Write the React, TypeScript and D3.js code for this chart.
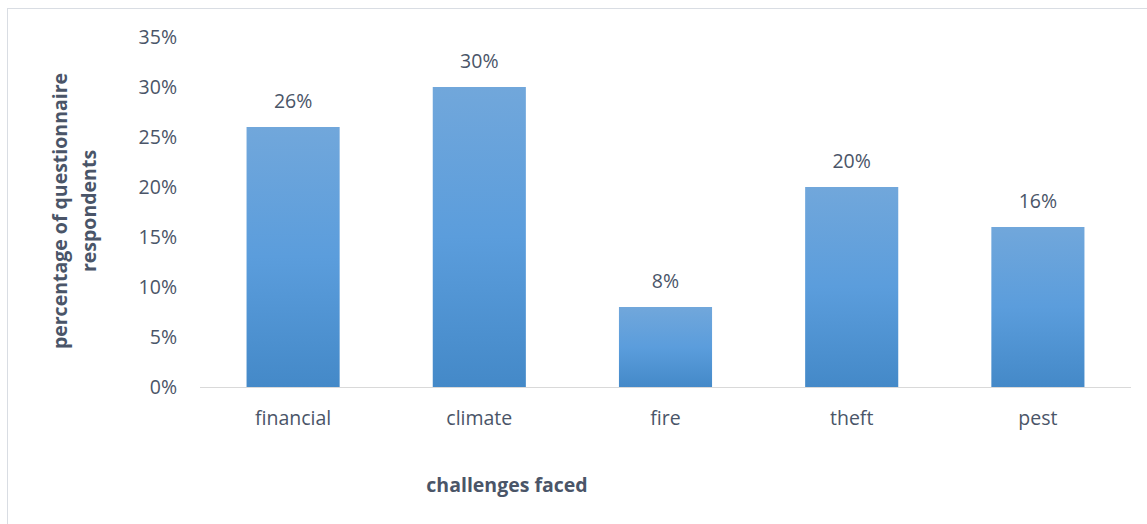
import React from "react";
import * as d3 from "d3";

const categories = ["financial", "climate", "fire", "theft", "pest"];
const values = [26, 30, 8, 20, 16];
const yTicks = [0, 5, 10, 15, 20, 25, 30, 35];

export default function App() {
  const W = 1147, H = 524;
  const left = 200, right = 1131, top = 37, bottom = 387;
  const x = d3.scaleBand<string>().domain(categories).range([left, right]).paddingInner(0.5).paddingOuter(0.25);
  const y = d3.scaleLinear().domain([0, 35]).range([bottom, top]);
  const font = "'Open Sans', sans-serif";
  const tc = "#4a5568";
  const fs = 19.5;
  return (
    <svg width={W} height={H} style={{ position: "absolute", left: 0, top: 0, background: "#fff" }}>
      <defs>
        <linearGradient id="bg" x1="0" y1="0" x2="0" y2="1">
          <stop offset="0%" stopColor="#71a7db" />
          <stop offset="50%" stopColor="#5b9ddc" />
          <stop offset="100%" stopColor="#4489c8" />
        </linearGradient>
      </defs>
      <rect x={7.5} y={8.5} width={W} height={H} fill="#fff" stroke="#d9dde3" strokeWidth={1} />
      {yTicks.map((t) => (
        <text key={t} x={177} y={y(t)} dy="0.35em" textAnchor="end" fontFamily={font} fontSize={fs} fill={tc}>
          {t}%
        </text>
      ))}
      {categories.map((c, i) => (
        <g key={c}>
          <rect x={x(c)} y={y(values[i])} width={x.bandwidth()} height={bottom - y(values[i])} fill="url(#bg)" />
          <text x={x(c)! + x.bandwidth() / 2} y={y(values[i]) - 26} dy="0.35em" textAnchor="middle" fontFamily={font} fontSize={fs} fill={tc}>
            {values[i]}%
          </text>
          <text x={x(c)! + x.bandwidth() / 2} y={418} dy="0.35em" textAnchor="middle" fontFamily={font} fontSize={fs} fill={tc}>
            {c}
          </text>
        </g>
      ))}
      <line x1={left} x2={right} y1={bottom + 0.5} y2={bottom + 0.5} stroke="#d9d9d9" strokeWidth={1} />
      <text x={507} y={485} dy="0.35em" textAnchor="middle" fontFamily={font} fontSize={fs} fontWeight="bold" fill={tc}>
        challenges faced
      </text>
      <g transform="translate(60,211) rotate(-90)">
        <text x={0} y={0} dy="0.35em" textAnchor="middle" fontFamily={font} fontSize={fs} fontWeight="bold" fill={tc}>
          percentage of questionnaire
        </text>
        <text x={0} y={29} dy="0.35em" textAnchor="middle" fontFamily={font} fontSize={fs} fontWeight="bold" fill={tc}>
          respondents
        </text>
      </g>
    </svg>
  );
}
